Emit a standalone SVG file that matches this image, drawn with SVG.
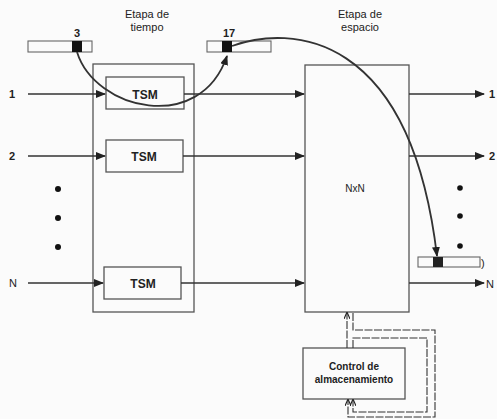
<svg xmlns="http://www.w3.org/2000/svg" width="497" height="419" viewBox="0 0 497 419">
<defs>
<marker id="ah" markerWidth="10" markerHeight="8" refX="9" refY="4" orient="auto" markerUnits="userSpaceOnUse">
<path d="M0,0 L10,4 L0,8 Z" fill="#222"/>
</marker>
<marker id="ahs" markerWidth="7" markerHeight="6" refX="6" refY="3" orient="auto" markerUnits="userSpaceOnUse">
<path d="M0,0 L7,3 L0,6" fill="none" stroke="#222" stroke-width="1.1"/>
</marker>
<style>
.t{font-family:"Liberation Sans",Arial,sans-serif;fill:#222;}
.box{fill:none;stroke:#555;stroke-width:1.3;}
.ln{fill:none;stroke:#333;stroke-width:1.4;}
.cv{fill:none;stroke:#333;stroke-width:1.8;}
.cl{fill:none;stroke:#333;stroke-width:1.1;stroke-dasharray:8 1.5;}
.buf{fill:#fafafa;stroke:#666;stroke-width:1.1;}
</style>
</defs>
<rect width="497" height="419" fill="#fbfbfb"/>

<g id="labels">
<text class="t" x="147" y="18" font-size="11" text-anchor="middle">Etapa de</text>
<text class="t" x="147" y="31" font-size="11" text-anchor="middle">tiempo</text>
<text class="t" x="360" y="18" font-size="11" text-anchor="middle">Etapa de</text>
<text class="t" x="360" y="31" font-size="11" text-anchor="middle">espacio</text>
<text class="t" x="12" y="98" font-size="11" font-weight="bold" text-anchor="middle">1</text>
<text class="t" x="12" y="160" font-size="11" font-weight="bold" text-anchor="middle">2</text>
<text class="t" x="13" y="287" font-size="11" text-anchor="middle">N</text>
<text class="t" x="489" y="98" font-size="11" font-weight="bold">1</text>
<text class="t" x="489" y="160" font-size="11" font-weight="bold">2</text>
<text class="t" x="486" y="288" font-size="11">N</text>
</g>

<g id="dots" fill="#111">
<circle cx="58" cy="189" r="3"/>
<circle cx="58" cy="218" r="3"/>
<circle cx="58" cy="247" r="3"/>
<circle cx="460" cy="188" r="2.8"/>
<circle cx="460" cy="216" r="2.8"/>
<circle cx="460" cy="246" r="2.8"/>
</g>

<g id="buffer-3">
<rect class="buf" x="28" y="41" width="64" height="11"/>
<rect x="72" y="41" width="10" height="11" fill="#111"/>
<text class="t" x="77" y="37" font-size="11" font-weight="bold" text-anchor="middle">3</text>
</g>

<g id="buffer-17">
<rect class="buf" x="207" y="41" width="64" height="11"/>
<rect x="222" y="41" width="10" height="11" fill="#111"/>
<text class="t" x="229" y="37" font-size="11" font-weight="bold" text-anchor="middle">17</text>
</g>

<g id="buffer-out">
<rect class="buf" x="418" y="257" width="62" height="10"/>
<rect x="433" y="257" width="10" height="10" fill="#222"/>
<text class="t" x="481" y="267" font-size="11">)</text>
</g>

<g id="time-stage">
<rect class="box" x="93" y="64" width="101" height="248"/>
</g>

<g id="tsm1">
<rect class="box" x="106" y="77" width="78" height="32"/>
<text class="t" x="145" y="99" font-size="12" font-weight="bold" text-anchor="middle">TSM</text>
</g>
<g id="tsm2">
<rect class="box" x="106" y="140" width="77" height="32"/>
<text class="t" x="144" y="161" font-size="12" font-weight="bold" text-anchor="middle">TSM</text>
</g>
<g id="tsmN">
<rect class="box" x="104" y="267" width="77" height="32"/>
<text class="t" x="143" y="288" font-size="12" font-weight="bold" text-anchor="middle">TSM</text>
</g>

<g id="nxn">
<rect class="box" x="305" y="65" width="104" height="247"/>
<text class="t" x="355" y="192" font-size="10" text-anchor="middle">NxN</text>
</g>

<g id="control">
<rect class="box" x="303" y="348" width="102" height="51"/>
<text class="t" x="354" y="370" font-size="10" font-weight="bold" text-anchor="middle">Control de</text>
<text class="t" x="354" y="383" font-size="10" font-weight="bold" text-anchor="middle">almacenamiento</text>
</g>

<g id="connectors">
<line class="ln" x1="28" y1="94" x2="105" y2="94" marker-end="url(#ah)"/>
<line class="ln" x1="28" y1="156" x2="105" y2="156" marker-end="url(#ah)"/>
<line class="ln" x1="28" y1="283" x2="103" y2="283" marker-end="url(#ah)"/>
<line class="ln" x1="184" y1="94" x2="304" y2="94" marker-end="url(#ah)"/>
<line class="ln" x1="183" y1="156" x2="304" y2="156" marker-end="url(#ah)"/>
<line class="ln" x1="181" y1="283" x2="304" y2="283" marker-end="url(#ah)"/>
<line class="ln" x1="409" y1="94" x2="484" y2="94" marker-end="url(#ah)"/>
<line class="ln" x1="409" y1="156" x2="484" y2="156" marker-end="url(#ah)"/>
<line class="ln" x1="409" y1="283" x2="484" y2="283" marker-end="url(#ah)"/>
<path class="cv" d="M77,52 C95,110 200,135 227,56" marker-end="url(#ah)"/>
<path class="cv" d="M232,46 C290,25 410,30 437,256" marker-end="url(#ah)"/>
<line class="cl" x1="347" y1="348" x2="347" y2="313" marker-end="url(#ahs)"/>
<path class="cl" d="M353,313 V330 H435 V417 H348 V400" marker-end="url(#ahs)"/>
<path class="cl" d="M353,348 V338 H427 V412 H353 V400" marker-end="url(#ahs)"/>
</g>
</svg>
